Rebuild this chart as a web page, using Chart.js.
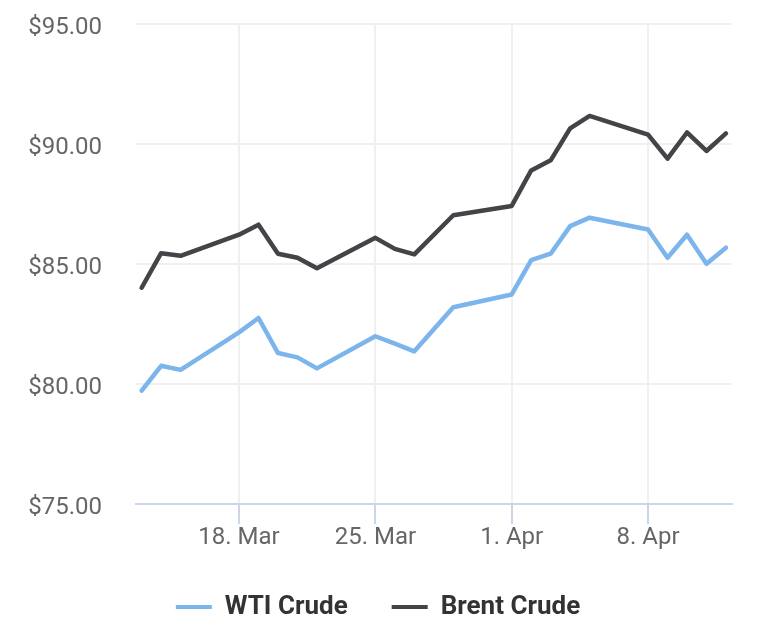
<!DOCTYPE html>
<html>
<head>
<meta charset="utf-8">
<script src="https://cdn.jsdelivr.net/npm/chart.js@4/dist/chart.umd.min.js"></script>
<style>
  html, body { margin: 0; padding: 0; background: #fff; }
  #wrap { width: 766px; height: 630px; }
</style>
</head>
<body>
<div id="wrap"><canvas id="c" width="766" height="630"></canvas></div>
<script>
// trading days shown (weekends skipped)
const dates = [
  "2024-03-13", "2024-03-14", "2024-03-15", "2024-03-18", "2024-03-19", "2024-03-20",
  "2024-03-21", "2024-03-22", "2024-03-25", "2024-03-26", "2024-03-27", "2024-03-29",
  "2024-04-01", "2024-04-02", "2024-04-03", "2024-04-04", "2024-04-05", "2024-04-08",
  "2024-04-09", "2024-04-10", "2024-04-11", "2024-04-12"
];
const wti = [
  79.72, 80.76, 80.59, 82.15, 82.75, 81.29, 81.11, 80.65, 81.99, 81.68, 81.36, 83.20,
  83.73, 85.16, 85.43, 86.58, 86.93, 86.44, 85.26, 86.22, 85.01, 85.68
];
const brent = [
  84.01, 85.45, 85.34, 86.22, 86.64, 85.43, 85.26, 84.82, 86.09, 85.63, 85.40, 87.03,
  87.42, 88.90, 89.32, 90.65, 91.17, 90.39, 89.39, 90.48, 89.71, 90.44
];
const tickDates = ["2024-03-18", "2024-03-25", "2024-04-01", "2024-04-08"];
const tickLabels = ["18. Mar", "25. Mar", "1. Apr", "8. Apr"];
const yTicks = [75, 80, 85, 90, 95];

// x = days counted from 1 Mar
const day = (s) => (Date.parse(s) - Date.parse("2024-03-01")) / 86400000 + 1;
const pts = (vals) => vals.map((v, i) => ({ x: day(dates[i]), y: v }));

const FONT = "Roboto, 'Liberation Sans', sans-serif";

// legend is centred on the page, not on the padded box
const legendShift = {
  id: "legendShift",
  afterLayout(chart) {
    chart.legend.left += 12;
    chart.legend.right += 12;
  }
};

new Chart(document.getElementById("c"), {
  type: "line",
  data: {
    datasets: [
      { label: "WTI Crude", data: pts(wti), borderColor: "#7cb5ec", backgroundColor: "#7cb5ec" },
      { label: "Brent Crude", data: pts(brent), borderColor: "#434348", backgroundColor: "#434348" }
    ]
  },
  plugins: [legendShift],
  options: {
    responsive: false,
    animation: false,
    layout: { padding: { top: 24, right: 34, left: 0, bottom: 0 } },
    elements: {
      line: { borderWidth: 4.5, tension: 0, borderJoinStyle: "round", borderCapStyle: "round", fill: false },
      point: { radius: 0 }
    },
    plugins: {
      tooltip: { enabled: false },
      legend: {
        position: "bottom",
        labels: {
          boxWidth: 36,
          boxHeight: 4,
          padding: 44,
          color: "#333333",
          font: { family: FONT, size: 26, weight: "bold" },
          generateLabels: (chart) =>
            Chart.defaults.plugins.legend.labels.generateLabels(chart).map((l) => Object.assign(l, { lineWidth: 0 }))
        }
      }
    },
    scales: {
      x: {
        type: "linear",
        min: 12.71,
        max: 43.31,
        afterBuildTicks: (s) => { s.ticks = tickDates.map((d) => ({ value: day(d) })); },
        afterFit: (s) => { s.height = 46; },
        ticks: {
          autoSkip: false,
          maxRotation: 0,
          padding: 0,
          color: "#666666",
          font: { family: FONT, size: 24 },
          callback: (v) => tickLabels[tickDates.findIndex((d) => day(d) === v)]
        },
        grid: { color: "#f0f0f0", lineWidth: 2, tickColor: "#ccd6eb", tickLength: 20, tickWidth: 2 },
        border: { display: true, color: "#ccd6eb", width: 2 }
      },
      y: {
        min: 75,
        max: 95,
        afterBuildTicks: (s) => { s.ticks = yTicks.map((v) => ({ value: v })); },
        afterFit: (s) => { s.width = 136; s.paddingTop = 0; s.paddingBottom = 0; },
        ticks: {
          padding: 34,
          labelOffset: 4,
          color: "#666666",
          font: { family: FONT, size: 24 },
          callback: (v) => "$" + v.toFixed(2)
        },
        grid: { color: "#f0f0f0", lineWidth: 2, drawTicks: false },
        border: { display: false }
      }
    }
  }
});
</script>
</body>
</html>
